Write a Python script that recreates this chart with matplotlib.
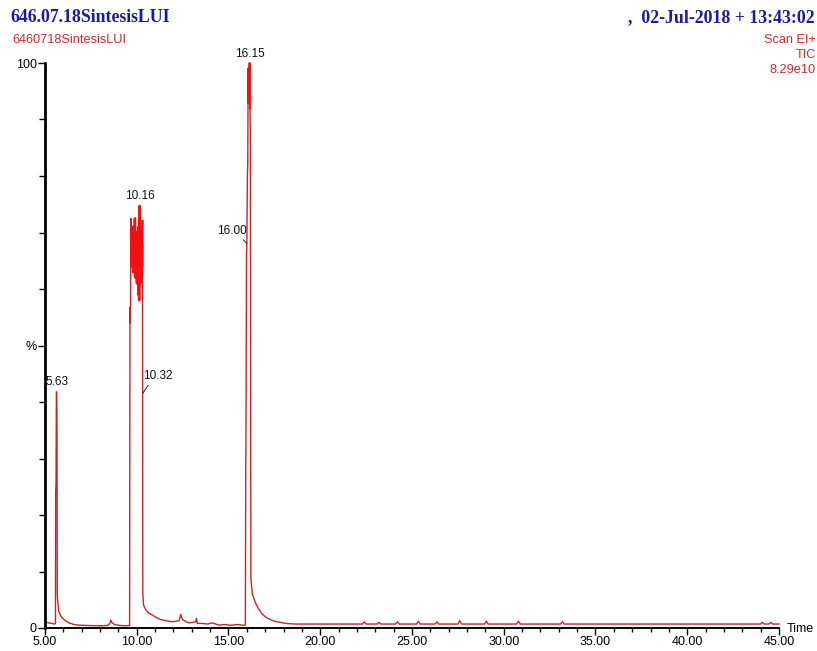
import matplotlib
matplotlib.use("Agg")
import matplotlib.pyplot as plt
from matplotlib.ticker import MultipleLocator, FixedLocator, FixedFormatter

# ---- chromatogram data: retention time (min) and relative intensity (%) ----
# baseline and first peak up to the foot of the 10 min cluster
t_lead = [
    5.00, 5.20, 5.40, 5.52, 5.57, 5.58, 5.60, 5.62, 5.63, 5.65, 5.66, 5.67,
    5.70, 5.76, 5.85, 5.94, 6.10, 6.31, 6.60, 6.85, 7.30, 7.80, 8.20, 8.45,
    8.55, 8.58, 8.62, 8.67, 8.80, 9.10, 9.40, 9.61,
    9.63, 9.64, 9.65, 9.66, 9.68, 9.69,
]
i_lead = [
    1.1, 0.9, 0.8, 0.7, 0.8, 24.0, 25.5, 41.0, 41.8, 38.0, 20.0, 6.0,
    4.4, 2.9, 2.2, 1.8, 1.3, 0.9, 0.6, 0.5, 0.45, 0.4, 0.4, 0.5,
    0.9, 1.4, 1.1, 0.9, 0.6, 0.45, 0.4, 0.45,
    55.0, 56.8, 54.0, 57.0, 72.5, 64.0,
]
# saturated top of the 10 min cluster
t_cluster = [
    9.70, 9.71, 9.72, 9.73, 9.74, 9.75, 9.76, 9.77, 9.78, 9.79, 9.80, 9.81,
    9.82, 9.83, 9.84, 9.85, 9.86, 9.87, 9.88, 9.89, 9.90, 9.91, 9.92, 9.93,
    9.94, 9.95, 9.96, 9.97, 9.98, 9.99, 10.00, 10.01, 10.02, 10.03, 10.04,
    10.05, 10.06, 10.07, 10.08, 10.09, 10.10, 10.11, 10.12, 10.13, 10.14,
    10.15, 10.16, 10.17, 10.18, 10.19, 10.20, 10.21, 10.22, 10.23, 10.24,
    10.25, 10.26, 10.27, 10.28, 10.29, 10.30, 10.31,
]
i_cluster = [
    68.0, 65.0, 70.0, 64.0, 69.0, 65.0, 71.0, 64.0, 68.0, 65.0, 70.0, 63.0,
    69.0, 64.0, 70.0, 63.0, 71.0, 64.0, 69.0, 63.0, 72.5, 63.0, 69.0, 62.0,
    68.0, 63.0, 70.0, 62.0, 69.0, 63.0, 70.0, 61.0, 68.0, 62.0, 70.0,
    61.0, 69.0, 62.0, 71.0, 60.0, 68.0, 59.0, 70.0, 58.0, 72.0,
    61.0, 74.7, 62.0, 70.0, 61.0, 69.0, 62.0, 69.0, 62.0, 68.0,
    63.0, 69.0, 63.0, 68.0, 64.0, 70.0, 72.0,
]
# tail of the cluster, minor peaks and rising edge at 16 min
t_mid = [
    10.32, 10.33, 10.36, 10.40, 10.50, 10.67, 10.85, 11.04, 11.30, 11.58,
    11.95, 12.31, 12.40, 12.49, 12.70, 12.86, 13.05, 13.22, 13.25, 13.31,
    13.60, 13.86, 14.13, 14.30, 14.49, 14.70, 14.86, 15.05, 15.22, 15.40,
    15.58, 15.75, 15.92,
    15.94, 15.95, 15.97, 15.98, 16.00, 16.03, 16.05,
]
i_mid = [
    41.5, 6.4, 4.4, 3.8, 3.2, 2.6, 2.3, 1.9, 1.5, 1.3,
    1.1, 1.3, 2.4, 1.5, 1.1, 0.9, 1.0, 1.1, 1.7, 0.8,
    0.8, 0.7, 0.9, 0.7, 0.5, 0.6, 0.6, 0.5, 0.5, 0.6,
    0.6, 0.5, 0.5,
    30.0, 31.0, 60.0, 66.0, 68.0, 80.0, 82.0,
]
# saturated top of the base peak
t_base = [16.06, 16.07, 16.08, 16.09, 16.10, 16.11, 16.12, 16.13, 16.14,
          16.15, 16.16, 16.17]
i_base = [93.0, 99.0, 94.0, 98.0, 95.0, 99.0, 93.0, 98.0, 94.0,
          100.0, 96.0, 92.0]
# falling edge, tail and late baseline
t_tail = [
    16.19, 16.21, 16.22,
    16.24, 16.30, 16.45, 16.60, 16.80, 17.00, 17.20, 17.50, 17.80, 18.15,
    18.60, 19.50, 20.50, 21.50, 22.30, 22.40, 22.50, 23.10, 23.20, 23.30,
    24.10, 24.20, 24.30, 25.25, 25.35, 25.45, 26.25, 26.36, 26.45, 27.50,
    27.60, 27.70, 28.95, 29.05, 29.15, 30.70, 30.80, 30.90, 33.10, 33.20,
    33.30, 36.00, 39.00, 42.00, 44.00, 44.10, 44.20, 44.45, 44.55, 44.65,
    45.00,
]
i_tail = [
    88.0, 40.0, 9.0,
    8.0, 6.0, 4.6, 3.6, 2.6, 2.0, 1.6, 1.2, 1.0, 0.8,
    0.7, 0.7, 0.7, 0.7, 0.7, 1.1, 0.7, 0.7, 1.0, 0.7,
    0.7, 1.1, 0.7, 0.7, 1.2, 0.7, 0.7, 1.1, 0.7, 0.7,
    1.3, 0.7, 0.7, 1.2, 0.7, 0.7, 1.2, 0.7, 0.7, 1.1,
    0.7, 0.7, 0.7, 0.7, 0.7, 1.0, 0.7, 0.7, 1.0, 0.7,
    0.7,
]

time_min = t_lead + t_cluster + t_mid + t_base + t_tail
intensity_pct = i_lead + i_cluster + i_mid + i_base + i_tail

# labelled peaks
apex_labels = [(5.63, 41.8, "5.63"), (10.16, 74.7, "10.16"), (16.15, 100.0, "16.15")]
edge_labels = [
    (10.32, 41.5, "10.32", (0.0, 8.0), "left", (0.25, 0.0)),
    (16.00, 68.0, "16.00", (0.0, 5.0), "right", (0.8, 0.0)),
]

# header texts
run_title = "646.07.18SintesisLUI"
run_stamp = ",  02-Jul-2018 + 13:43:02"
file_name = "6460718SintesisLUI"
scan_info = ["Scan EI+", "TIC", "8.29e10"]

x_major = [5, 10, 15, 20, 25, 30, 35, 40, 45]
y_major = [0, 50, 100]
y_major_text = ["0", "%", "100"]

W, H = 817, 651
TRACE = "#c82424"
DENSE = "#f01212"
BLUE = "#1a1aa6"
RED = "#cf2a2a"

plt.rcParams["font.family"] = ["Liberation Sans", "DejaVu Sans"]

fig = plt.figure(figsize=(W / 100, H / 100), dpi=100)
ax = fig.add_axes([45 / W, 1 - 628 / H, (779 - 45) / W, (628 - 63) / H])

ax.plot(time_min, intensity_pct, color=TRACE, lw=1.0, clip_on=False)
# saturated scan-to-scan jitter renders as solid red
ax.plot(t_cluster, i_cluster, color=DENSE, lw=1.8, clip_on=False)
ax.plot(t_base, i_base, color=DENSE, lw=1.4, clip_on=False)

ax.set_xlim(5, 45)
ax.set_ylim(0, 100)

for side in ("top", "right"):
    ax.spines[side].set_visible(False)
ax.spines["left"].set_linewidth(2.0)
ax.spines["bottom"].set_linewidth(1.4)

ax.xaxis.set_major_locator(FixedLocator(x_major))
ax.xaxis.set_major_formatter(FixedFormatter([f"{v:.2f}" for v in x_major]))
ax.xaxis.set_minor_locator(MultipleLocator(1))
ax.yaxis.set_major_locator(FixedLocator(y_major))
ax.yaxis.set_major_formatter(FixedFormatter(y_major_text))
ax.yaxis.set_minor_locator(MultipleLocator(10))

ax.tick_params(axis="x", which="major", direction="out", length=5, width=1,
               labelsize=9, pad=1)
ax.tick_params(axis="x", which="minor", direction="out", length=3, width=1)
ax.tick_params(axis="y", which="major", direction="out", length=5, width=1,
               labelsize=9, pad=1)
ax.tick_params(axis="y", which="minor", direction="out", length=4, width=1)

for t, v, s in apex_labels:
    ax.annotate(s, xy=(t, v), xytext=(0, 2.5), textcoords="offset points",
                ha="center", va="bottom", fontsize=8.5, color="#111111",
                annotation_clip=False)

for t, v, s, off, ha, rp in edge_labels:
    ax.annotate(s, xy=(t, v), xytext=off, textcoords="offset points",
                ha=ha, va="bottom", fontsize=8.5, color="#111111",
                arrowprops=dict(arrowstyle="-", lw=0.7, color="#222222",
                                shrinkA=0, shrinkB=0, relpos=rp))

fig.text(787 / W, 1 - 629 / H, "Time", ha="left", va="center", fontsize=9)

fig.text(10 / W, 1 - 18 / H, run_title, ha="left", va="center",
         fontsize=12.8, fontweight="bold", color=BLUE,
         family=["Liberation Serif", "DejaVu Serif"])
fig.text(815 / W, 1 - 18 / H, run_stamp, ha="right", va="center",
         fontsize=12.8, fontweight="bold", color=BLUE,
         family=["Liberation Serif", "DejaVu Serif"])
fig.text(12 / W, 1 - 40 / H, file_name, ha="left", va="center",
         fontsize=9.2, color=RED)
for i, s in enumerate(scan_info):
    fig.text(816 / W, 1 - (40 + 15 * i) / H, s, ha="right", va="center",
             fontsize=9.2, color=RED)

fig.savefig("out.png", dpi=100, facecolor="white")
